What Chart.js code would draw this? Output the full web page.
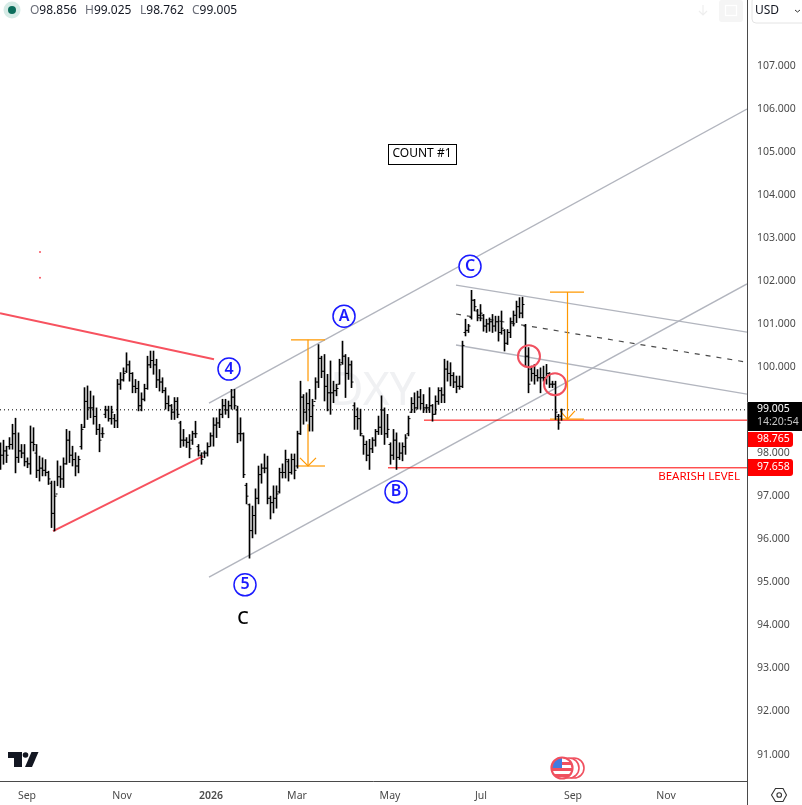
<!DOCTYPE html>
<html>
<head>
<meta charset="utf-8">
<title>DXY</title>
<script src="https://cdn.jsdelivr.net/npm/chart.js@4/dist/chart.umd.min.js"></script>
<style>
  html, body { margin: 0; padding: 0; background: #fff; }
  canvas { display: block; }
</style>
</head>
<body>
<canvas id="dxy" width="802" height="805"></canvas>
<script>
// ------------------------- DATA -------------------------
const opens = [
  98.00,97.95,98.05,98.15,98.20,98.45,97.90,98.05,98.00,97.80,
  97.75,98.25,98.00,97.60,97.65,97.60,97.55,97.30,96.60,97.05,
  97.45,97.40,97.75,98.30,97.95,97.85,97.70,98.15,98.60,99.20,
  99.05,99.05,98.85,98.55,98.45,98.90,99.00,98.80,98.80,98.75,
  99.60,99.70,99.90,100.05,99.85,99.55,99.50,99.10,99.25,99.50,
  100.05,100.15,100.05,99.70,99.65,99.45,99.15,99.10,98.95,99.20,
  98.70,98.30,98.30,98.25,98.30,98.45,98.15,97.95,98.00,98.00,
  98.15,98.40,98.65,98.70,98.90,99.10,99.00,99.10,99.30,99.00,
  98.45,98.45,97.25,96.80,96.20,96.55,96.95,97.50,97.65,97.65,
  96.95,96.85,96.95,97.10,97.55,97.55,97.80,97.55,97.85,97.70,
  98.45,99.30,98.95,99.15,98.85,99.20,99.65,100.20,99.90,99.55,
  99.40,99.40,99.45,99.60,100.10,100.25,99.85,100.05,99.10,98.85,
  98.80,98.40,98.20,97.95,98.10,98.30,98.50,98.60,99.00,98.45,
  98.20,97.95,98.30,97.90,98.00,98.15,98.45,98.95,99.15,99.05,
  99.30,99.15,99.05,99.05,99.10,98.90,99.20,99.45,99.35,99.95,
  99.85,99.80,99.65,99.55,99.55,100.80,100.85,101.15,101.55,101.30,
  101.20,101.20,100.95,101.00,101.05,100.95,101.05,100.80,100.85,100.55,
  100.80,101.05,101.20,101.40,101.25,100.95,100.25,99.95,99.85,99.80,
  99.75,99.75,99.75,99.85,99.60,99.60,98.85,98.856
];
const highs = [
  98.24,98.30,98.16,98.36,98.67,98.81,98.47,98.20,98.20,97.89,
  98.63,98.59,98.20,97.93,97.89,97.85,97.58,97.35,97.35,97.82,
  97.70,97.89,98.55,98.51,98.16,98.01,97.93,98.67,99.52,99.56,
  99.44,99.33,99.05,98.67,98.59,99.09,99.09,99.09,98.90,99.71,
  99.87,99.98,100.33,100.14,99.87,99.71,99.67,99.40,99.60,100.25,
  100.37,100.37,100.18,99.94,99.75,99.52,99.33,99.13,99.29,99.29,
  98.74,98.55,98.36,98.43,98.51,98.74,98.20,98.01,98.05,98.24,
  98.47,98.82,98.82,99.02,99.25,99.25,99.21,99.48,99.48,99.09,
  98.82,98.47,97.30,96.82,96.77,97.17,97.70,97.75,97.98,97.93,
  97.00,97.24,97.24,97.65,97.75,98.07,97.86,97.98,97.98,98.51,
  99.67,99.36,99.40,99.48,99.25,99.75,100.52,100.25,100.29,99.83,
  100.14,99.67,99.60,100.18,100.60,100.29,100.22,100.14,99.17,99.05,
  99.02,98.40,98.28,98.32,98.36,98.55,98.86,99.33,99.05,98.90,
  98.24,98.55,98.47,98.24,98.24,98.43,98.86,99.29,99.40,99.44,
  99.48,99.36,99.13,99.52,99.13,99.33,99.52,99.52,100.18,100.14,
  100.10,99.87,99.79,99.79,100.60,101.11,100.99,101.78,101.57,101.34,
  101.45,101.22,101.11,101.14,101.22,101.18,101.18,101.30,100.87,100.87,
  101.14,101.30,101.53,101.61,101.62,100.99,100.45,100.02,100.06,99.94,
  99.98,100.02,100.06,99.87,99.67,99.67,98.90,99.025
];
const lows = [
  97.62,97.74,97.78,98.09,98.09,97.54,97.78,97.89,97.70,97.66,
  97.51,98.05,97.43,97.35,97.47,97.47,97.27,96.27,96.19,97.24,
  97.20,97.20,97.74,97.78,97.70,97.47,97.54,98.09,98.59,98.78,
  98.82,98.67,98.43,98.03,98.36,98.82,98.74,98.67,98.59,98.59,
  99.48,99.67,99.87,99.67,99.40,99.40,98.98,98.98,99.21,99.48,
  99.98,99.83,99.52,99.44,99.40,99.02,98.98,98.78,98.78,98.82,
  98.13,98.16,98.13,97.89,98.20,98.36,97.93,97.74,97.89,97.93,
  98.16,98.16,98.36,98.59,98.82,98.90,98.82,99.02,99.02,98.24,
  98.28,97.43,96.82,95.56,96.03,96.12,96.82,97.30,97.54,96.82,
  96.47,96.61,96.72,97.07,97.42,97.42,97.35,97.51,97.40,97.65,
  98.43,98.67,98.74,98.51,98.51,99.25,99.52,99.75,99.21,98.98,
  98.90,99.17,99.33,99.60,100.06,99.29,99.71,99.52,98.55,98.55,
  98.40,97.97,97.82,97.62,98.01,98.16,98.43,98.43,98.20,98.36,
  97.74,97.85,97.62,97.85,97.82,97.97,98.40,98.94,98.94,99.02,
  99.02,98.94,98.94,98.94,98.74,98.90,99.13,99.17,99.17,99.67,
  99.56,99.52,99.40,99.48,99.52,100.72,100.80,101.11,101.30,101.07,
  101.07,100.83,100.80,100.83,100.80,100.83,100.60,100.76,100.37,100.52,
  100.68,100.95,101.03,101.14,101.14,100.02,99.40,99.67,99.60,99.67,
  99.40,99.67,99.60,99.52,99.52,98.78,98.55,98.762
];
const closes = [
  97.95,98.05,97.95,98.20,98.45,97.90,98.05,98.00,97.80,97.75,
  98.25,98.20,97.60,97.65,97.60,97.55,97.40,96.60,97.00,97.45,
  97.40,97.75,98.30,97.95,97.85,97.70,97.85,98.55,99.20,99.05,
  99.05,98.85,98.55,98.30,98.45,99.00,98.80,98.95,98.75,99.60,
  99.70,99.85,100.05,99.85,99.55,99.50,99.10,99.25,99.50,100.05,
  100.15,100.05,99.70,99.65,99.45,99.15,99.10,98.95,99.20,98.90,
  98.30,98.30,98.25,98.10,98.45,98.45,98.05,97.85,98.00,98.15,
  98.40,98.65,98.70,98.90,99.10,99.00,99.10,99.30,99.10,98.45,
  98.45,97.50,97.00,96.20,96.55,96.95,97.50,97.65,97.65,96.95,
  96.85,96.95,97.05,97.55,97.55,97.85,97.55,97.85,97.60,98.45,
  99.30,98.95,99.15,98.85,99.10,99.65,100.20,99.90,99.55,99.40,
  99.40,99.45,99.50,100.05,100.25,99.85,100.05,99.65,98.85,98.80,
  98.45,98.20,97.95,98.10,98.30,98.50,98.60,99.00,98.45,98.55,
  97.95,98.30,97.90,98.00,98.15,98.35,98.80,99.15,99.05,99.30,
  99.15,99.05,99.05,99.10,98.90,99.20,99.45,99.35,99.95,99.85,
  99.80,99.65,99.55,99.55,100.50,100.85,100.95,101.55,101.40,101.20,
  101.25,100.95,101.00,101.05,100.95,101.05,100.80,100.90,100.55,100.80,
  101.05,101.20,101.40,101.25,101.45,100.25,99.60,99.85,99.80,99.75,
  99.75,99.75,99.85,99.60,99.60,98.95,98.70,99.005
];

const xTickValues = [9, 40.67, 70.33, 99, 130, 160.33, 191, 222];
const xTickLabels = ["Sep", "Nov", "2026", "Mar", "May", "Jul", "Sep", "Nov"];
const yTickValues = [107, 106, 105, 104, 103, 102, 101, 100, 99, 98, 97, 96, 95, 94, 93, 92, 91];
const yTickLabels = ["107.000", "106.000", "105.000", "104.000", "103.000", "102.000", "101.000", "100.000",
  "99.000", "98.000", "97.000", "96.000", "95.000", "94.000", "93.000", "92.000", "91.000"];

const lastPrice = 99.005;
const level1 = 98.765;
const level2 = 97.658;

// drawing tools on the chart, in bar number / price
const redLines = [
  [[0, 101.25], [71.33, 100.18]],
  [[17.67, 96.19], [67.67, 97.93]]
];
const channelLines = [
  [[69.67, 99.16], [249, 105.99]],
  [[69.67, 95.12], [249, 101.93]],
  [[152, 101.90], [249, 100.81]],
  [[152, 100.51], [249, 99.37]]
];
const midLine = [[152, 101.23], [249, 100.11]];
const levelLines = [
  [[141.33, level1], [249, level1]],
  [[129.33, level2], [249, level2]]
];
const measureLines = [
  [[102.67, 100.63], [102.67, 99.67]],
  [[102.67, 98.67], [102.67, 97.70]],
  [[97, 100.63], [108.33, 100.63]],
  [[99, 97.70], [108.33, 97.70]],
  [[100, 97.89], [102.67, 97.70], [105.33, 97.89]],
  [[189.17, 101.74], [189.17, 98.79]],
  [[183.33, 101.74], [194.67, 101.74]],
  [[183.33, 98.79], [194.67, 98.79]],
  [[186.67, 98.98], [189.17, 98.79], [191.67, 98.98]]
];
const ringPoints = [[176.33, 100.25], [185, 99.60]];
const dotPoints = [[13.33, 102.67], [13.33, 102.07]];
const waveLabels = [
  ["4", 76.33, 99.95], ["A", 114.67, 101.18], ["C", 156.67, 102.34],
  ["B", 132, 97.10], ["5", 81.67, 94.94]
];

// ------------------------- DATASETS -------------------------
const FONT = '"Noto Sans", sans-serif';

function lineSet(points, color, width, dash, order) {
  return {
    type: "line",
    data: points.map(p => ({ x: p[0], y: p[1] })),
    borderColor: color,
    borderWidth: width,
    borderDash: dash || [],
    pointRadius: 0,
    tension: 0,
    order: order
  };
}

const datasets = [];

redLines.forEach(l => datasets.push(lineSet(l, "#f7525f", 2, null, 6)));
channelLines.forEach(l => datasets.push(lineSet(l, "#b2b5be", 1.4, null, 6)));
datasets.push(lineSet(midLine, "#4a4a4a", 1.2, [5, 6], 6));
measureLines.forEach(l => datasets.push(lineSet(l, "#ff9800", 1.2, null, 5)));
levelLines.forEach(l => datasets.push(lineSet(l, "#ff0000", 1, null, 5)));
datasets.push(lineSet([[0, lastPrice], [249, lastPrice]], "#000000", 1, [1, 3], 4));

// OHLC: the wick is a thin floating bar, open and close are short ticks either side
datasets.push({
  type: "bar",
  data: highs.map((h, i) => ({ x: i + 0.17, y: [lows[i], h] })),
  backgroundColor: "#000000",
  barThickness: 1,
  order: 3
});
datasets.push({
  type: "line",
  showLine: false,
  data: opens.map((v, i) => ({ x: i - 0.16, y: v })),
  pointStyle: "line",
  pointRadius: 1,
  pointBorderColor: "#000000",
  pointBorderWidth: 1,
  order: 2
});
datasets.push({
  type: "line",
  showLine: false,
  data: closes.map((v, i) => ({ x: i + 0.5, y: v })),
  pointStyle: "line",
  pointRadius: 1,
  pointBorderColor: "#000000",
  pointBorderWidth: 1,
  order: 2
});
datasets.push({
  type: "line",
  showLine: false,
  data: ringPoints.map(p => ({ x: p[0], y: p[1] })),
  pointRadius: 11,
  pointBackgroundColor: "rgba(0,0,0,0)",
  pointBorderColor: "#f0505f",
  pointBorderWidth: 2,
  order: 1
});
datasets.push({
  type: "line",
  showLine: false,
  data: dotPoints.map(p => ({ x: p[0], y: p[1] })),
  pointRadius: 1,
  pointBackgroundColor: "#f7525f",
  pointBorderWidth: 0,
  order: 1
});

// ------------------------- OVERLAY -------------------------
function text(ctx, s, x, y, font, color, align) {
  ctx.font = font;
  ctx.fillStyle = color;
  ctx.textAlign = align || "left";
  ctx.textBaseline = "middle";
  ctx.fillText(s, x, y);
}

const watermark = {
  id: "watermark",
  beforeDatasetsDraw(chart) {
    const ctx = chart.ctx;
    const sx = chart.scales.x, sy = chart.scales.y;
    ctx.save();
    text(ctx, "DXY", sx.getPixelForValue(124.3), sy.getPixelForValue(99.42), "46px " + FONT, "#f0f1f3", "center");
    ctx.restore();
  }
};

function tag(ctx, y, h, w, color) {
  ctx.fillStyle = color;
  ctx.beginPath();
  ctx.roundRect(748, y, w, h, [0, 3, 3, 0]);
  ctx.fill();
}

function flagIcon(ctx) {
  ctx.strokeStyle = "#f0505f";
  ctx.lineWidth = 1.6;
  [574, 569].forEach(x => {
    ctx.fillStyle = "#fff";
    ctx.beginPath();
    ctx.arc(x, 768, 10, 0, Math.PI * 2);
    ctx.fill();
    ctx.stroke();
  });
  ctx.beginPath();
  ctx.arc(562, 768, 10.5, 0, Math.PI * 2);
  ctx.fillStyle = "#fff";
  ctx.fill();
  ctx.save();
  ctx.clip();
  ctx.fillStyle = "#f0505f";
  ctx.fillRect(550, 762, 24, 3);
  ctx.fillRect(550, 768, 24, 3);
  ctx.fillRect(550, 774, 24, 3);
  ctx.fillStyle = "#3f7be0";
  ctx.fillRect(551, 758, 11, 10);
  ctx.restore();
  ctx.lineWidth = 2.2;
  ctx.beginPath();
  ctx.arc(562, 768, 10.5, 0, Math.PI * 2);
  ctx.stroke();
}

const overlay = {
  id: "overlay",
  afterDraw(chart) {
    const ctx = chart.ctx;
    const sx = chart.scales.x, sy = chart.scales.y;
    ctx.save();

    // wave counts
    waveLabels.forEach(w => {
      const x = sx.getPixelForValue(w[1]), y = sy.getPixelForValue(w[2]);
      ctx.beginPath();
      ctx.arc(x, y, 11, 0, Math.PI * 2);
      ctx.fillStyle = "#fff";
      ctx.fill();
      ctx.strokeStyle = "#1a1aff";
      ctx.lineWidth = 1.5;
      ctx.stroke();
      text(ctx, w[0], x, y, "600 16px " + FONT, "#1a1aff", "center");
    });
    text(ctx, "C", sx.getPixelForValue(81), sy.getPixelForValue(94.15), "500 18px " + FONT, "#000", "center");

    // count box
    const bx = sx.getPixelForValue(140.67), by = sy.getPixelForValue(104.95);
    ctx.fillStyle = "#fff";
    ctx.fillRect(bx - 34, by - 10, 68, 20);
    ctx.strokeStyle = "#000";
    ctx.lineWidth = 1;
    ctx.strokeRect(Math.round(bx - 34) + 0.5, Math.round(by - 10) + 0.5, 68, 20);
    text(ctx, "COUNT #1", bx, by, "12px " + FONT, "#000", "center");

    text(ctx, "BEARISH LEVEL", 740, 477, "11.5px " + FONT, "#ff0000", "right");

    // legend row
    ctx.fillStyle = "#d6ebe6";
    ctx.beginPath();
    ctx.arc(12, 10, 8.5, 0, Math.PI * 2);
    ctx.fill();
    ctx.fillStyle = "#0b6e5c";
    ctx.beginPath();
    ctx.arc(12, 10, 4, 0, Math.PI * 2);
    ctx.fill();
    const hdr = [["O", "98.856", 30], ["H", "99.025", 85], ["L", "98.762", 140], ["C", "99.005", 192]];
    hdr.forEach(h => {
      text(ctx, h[0], h[2], 10.5, "12px " + FONT, "#6a6d78");
      const w = ctx.measureText(h[0]).width;
      text(ctx, h[1], h[2] + w, 10.5, "12px " + FONT, "#131722");
    });

    // tv logo
    ctx.fillStyle = "#131722";
    ctx.fillRect(8, 752, 14, 6);
    ctx.fillRect(14, 752, 8, 15);
    ctx.beginPath();
    ctx.arc(25.5, 755, 2.8, 0, Math.PI * 2);
    ctx.fill();
    ctx.beginPath();
    ctx.moveTo(31.5, 752);
    ctx.lineTo(38.5, 752);
    ctx.lineTo(32, 767);
    ctx.lineTo(25, 767);
    ctx.closePath();
    ctx.fill();

    flagIcon(ctx);

    // faint toolbar icons
    ctx.fillStyle = "#f5f5f5";
    ctx.beginPath();
    ctx.roundRect(719, 0, 24, 22, 3);
    ctx.fill();
    ctx.strokeStyle = "#fff";
    ctx.lineWidth = 1.2;
    ctx.strokeRect(725.5, 5.5, 11, 10);
    ctx.strokeStyle = "#eeeeee";
    ctx.beginPath();
    ctx.moveTo(703, 5); ctx.lineTo(703, 15);
    ctx.moveTo(699, 11); ctx.lineTo(703, 15); ctx.lineTo(707, 11);
    ctx.stroke();

    // price scale lines
    ctx.strokeStyle = "#4a4a4a";
    ctx.lineWidth = 1;
    ctx.beginPath();
    ctx.moveTo(747.5, 0); ctx.lineTo(747.5, 805);
    ctx.moveTo(0, 781.5); ctx.lineTo(747.5, 781.5);
    ctx.stroke();

    // USD box
    ctx.strokeStyle = "#e4e4e4";
    ctx.beginPath();
    ctx.roundRect(752, -3, 60, 26, 4);
    ctx.stroke();
    text(ctx, "USD", 755, 10.5, "12px " + FONT, "#131722");
    ctx.strokeStyle = "#333";
    ctx.beginPath();
    ctx.moveTo(795, 10); ctx.lineTo(797.5, 12); ctx.lineTo(800, 10);
    ctx.stroke();

    // price tags
    ctx.fillStyle = "#000";
    ctx.fillRect(748, 402, 54, 29);
    text(ctx, "99.005", 757, 409.5, "10.5px " + FONT, "#fff");
    text(ctx, "14:20:54", 757, 422.5, "10.5px " + FONT, "#c4c4c4");
    tag(ctx, 432, 15, 45, "#ff0000");
    text(ctx, "98.765", 757, 439, "10.5px " + FONT, "#fff");
    tag(ctx, 459, 17, 45, "#ff0000");
    text(ctx, "97.658", 757, 467, "10.5px " + FONT, "#fff");

    // settings hexagon
    ctx.strokeStyle = "#333";
    ctx.lineWidth = 1.1;
    ctx.beginPath();
    ctx.moveTo(771.5, 795); ctx.lineTo(775.5, 788.5); ctx.lineTo(783, 788.5);
    ctx.lineTo(786.5, 795); ctx.lineTo(783, 801.5); ctx.lineTo(775.5, 801.5);
    ctx.closePath();
    ctx.moveTo(781.5, 795);
    ctx.arc(779.2, 795, 2.3, 0, Math.PI * 2);
    ctx.stroke();

    ctx.restore();
  }
};

function noPadding(s) {
  s.paddingTop = 0;
  s.paddingBottom = 0;
  s.paddingLeft = 0;
  s.paddingRight = 0;
}

// ------------------------- CHART -------------------------
new Chart(document.getElementById("dxy"), {
  type: "bar",
  data: { datasets: datasets },
  plugins: [watermark, overlay],
  options: {
    responsive: false,
    animation: false,
    devicePixelRatio: 1,
    layout: { padding: 0, autoPadding: false },
    datasets: { bar: { grouped: false } },
    plugins: { legend: { display: false }, tooltip: { enabled: false } },
    scales: {
      x: {
        type: "linear",
        offset: false,
        min: 0,
        max: 249,
        grid: { display: false, drawTicks: false },
        border: { display: false },
        afterBuildTicks: s => { s.ticks = xTickValues.map(v => ({ value: v })); },
        afterFit: s => { s.height = 24; noPadding(s); },
        ticks: {
          autoSkip: false,
          maxRotation: 0,
          padding: 9,
          color: "#4a4a4a",
          font: ctx => ({ family: FONT, size: 10.5, weight: ctx.index === 2 ? "600" : "400" }),
          callback: (v, i) => xTickLabels[i]
        }
      },
      y: {
        position: "right",
        min: 90.385,
        max: 108.522,
        grid: { display: false, drawTicks: false },
        border: { display: false },
        afterBuildTicks: s => { s.ticks = yTickValues.map(v => ({ value: v })); },
        afterFit: s => { s.width = 55; noPadding(s); },
        ticks: {
          autoSkip: false,
          padding: 10,
          crossAlign: "near",
          color: "#4a4a4a",
          font: { family: FONT, size: 10.5 },
          callback: (v, i) => yTickLabels[i]
        }
      }
    }
  }
});
</script>
</body>
</html>
